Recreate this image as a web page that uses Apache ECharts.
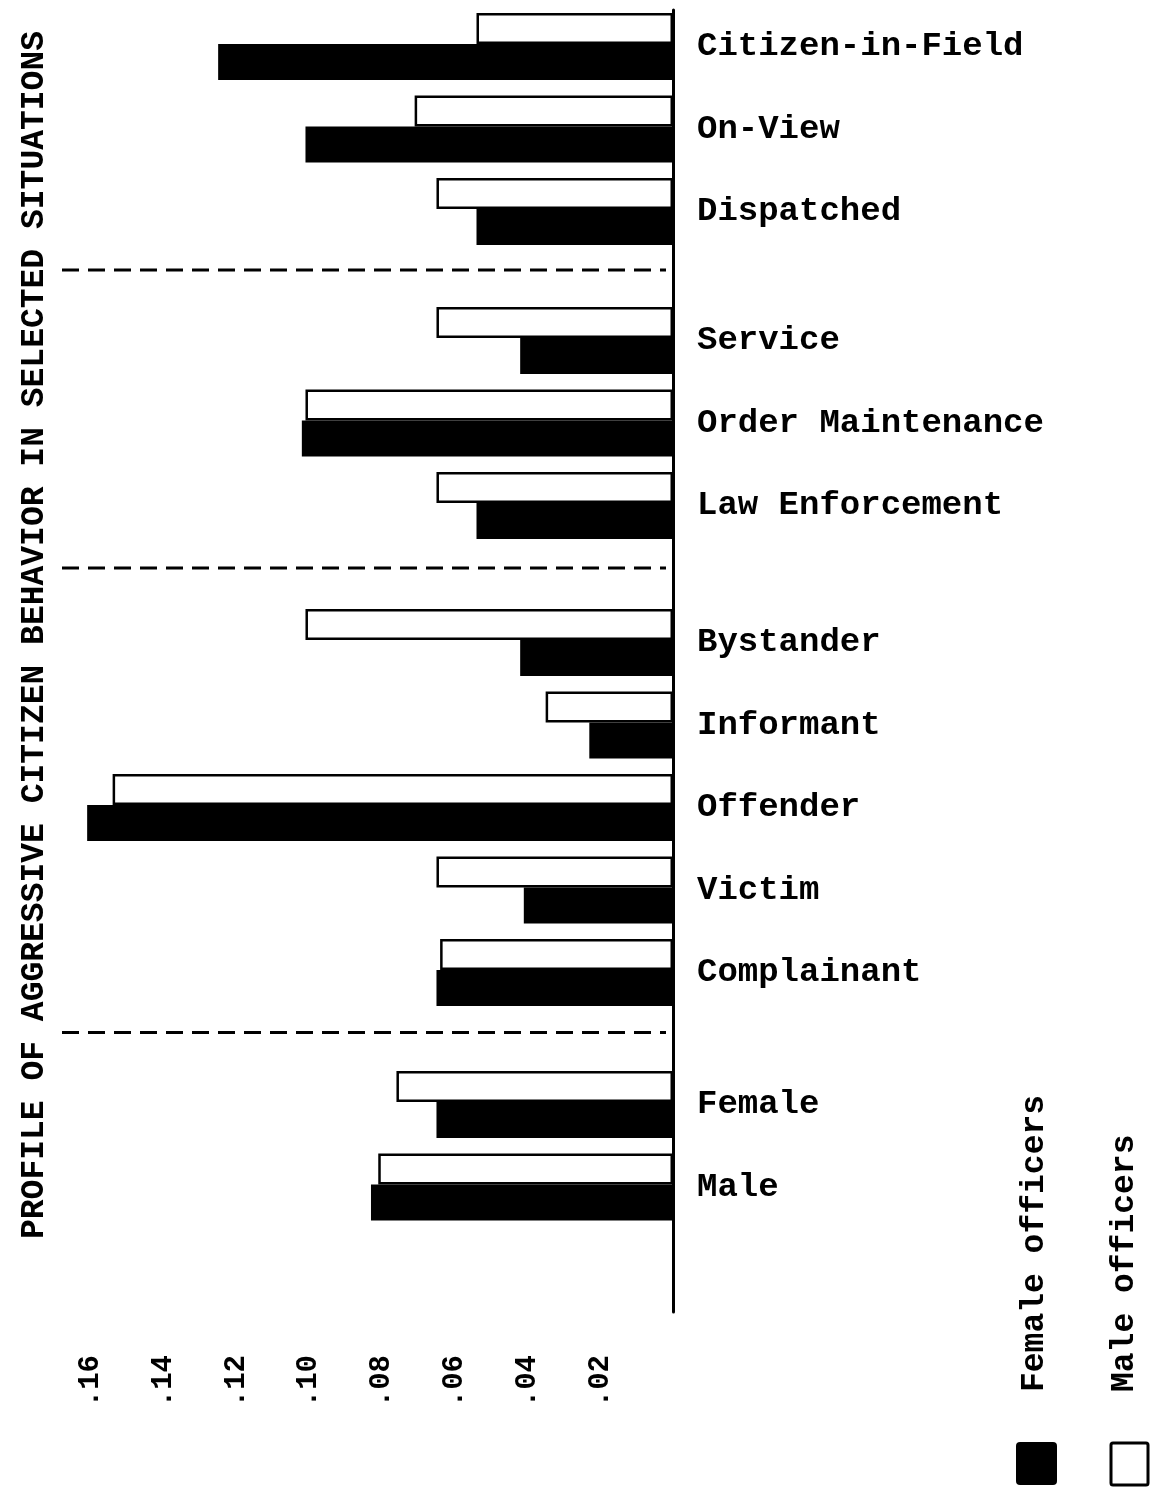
<!DOCTYPE html>
<html>
<head>
<meta charset="utf-8">
<script src="https://cdn.jsdelivr.net/npm/echarts/dist/echarts.min.js"></script>
<style>
  html, body { margin: 0; padding: 0; background: #fff; }
  #chart { width: 1159px; height: 1489px; }
</style>
</head>
<body>
<div id="chart"></div>
<script>
// ---- Data ----
const categories = ['Citizen-in-Field', 'On-View', 'Dispatched',
  'Service', 'Order Maintenance', 'Law Enforcement',
  'Bystander', 'Informant', 'Offender', 'Victim', 'Complainant',
  'Female', 'Male'];
const sectionSizes = [3, 3, 5, 2];
const maleOfficers   = [0.054, 0.071, 0.065, 0.065, 0.101, 0.065, 0.101, 0.035, 0.154, 0.065, 0.064, 0.076, 0.081];
const femaleOfficers = [0.125, 0.101, 0.054, 0.042, 0.102, 0.054, 0.042, 0.023, 0.161, 0.041, 0.065, 0.065, 0.083];
const seriesNames = ['Male officers', 'Female officers'];
const axisTitle = 'PROFILE OF AGGRESSIVE CITIZEN BEHAVIOR IN SELECTED SITUATIONS';

// ---- Layout ----
const FONT = 'Liberation Mono';
const PITCH = 82.5;
const gridTops = [5.25, 299.25, 601.25, 1063.25];
const LEFT = 54.4, RIGHT = 486;
const AX_TOP = 10, AX_BOTTOM_Y = 1312;

const chart = echarts.init(document.getElementById('chart'), null, { renderer: 'canvas' });

const grids = [{ left: LEFT, right: RIGHT, top: AX_TOP, height: AX_BOTTOM_Y - AX_TOP }];
const xAxes = [{
  gridIndex: 0, type: 'value', min: 0, max: 0.17, interval: 0.02, inverse: true,
  axisLine: { show: false }, axisTick: { show: false }, splitLine: { show: false },
  axisLabel: {
    rotate: 90, margin: 43, showMinLabel: false, showMaxLabel: false,
    fontFamily: FONT, fontWeight: 'bold', fontSize: 29, color: '#000',
    formatter: v => v.toFixed(2).replace(/^0/, '')
  }
}];
const yAxes = [{
  gridIndex: 0, type: 'value', min: 0, max: 1, position: 'right',
  axisLine: { show: true, lineStyle: { color: '#000', width: 3 } },
  axisTick: { show: false }, axisLabel: { show: false }, splitLine: { show: false }
}];
const series = [];
let start = 0;
sectionSizes.forEach((n, i) => {
  const gi = i + 1;
  grids.push({ left: LEFT, right: RIGHT, top: gridTops[i], height: n * PITCH });
  xAxes.push({ gridIndex: gi, type: 'value', min: 0, max: 0.17, inverse: true, show: false });
  yAxes.push({
    gridIndex: gi, type: 'category', inverse: true, position: 'right',
    data: categories.slice(start, start + n),
    axisLine: { show: false }, axisTick: { show: false }, splitLine: { show: false },
    axisLabel: { margin: 24, padding: [8, 0, 0, 0], fontFamily: FONT, fontWeight: 'bold', fontSize: 34, color: '#000' }
  });
  series.push({
    name: seriesNames[0], type: 'bar', xAxisIndex: gi, yAxisIndex: gi,
    data: maleOfficers.slice(start, start + n), barWidth: 31, barGap: '0%',
    itemStyle: { color: '#fff', borderColor: '#000', borderWidth: 2.5 }
  });
  series.push({
    name: seriesNames[1], type: 'bar', xAxisIndex: gi, yAxisIndex: gi,
    data: femaleOfficers.slice(start, start + n), barWidth: 36, barGap: '0%',
    itemStyle: { color: '#000' }
  });
  start += n;
});

// dashed separators between sections
const graphics = [];
for (let i = 0; i < sectionSizes.length - 1; i++) {
  const bottom = gridTops[i] + sectionSizes[i] * PITCH;
  const y = (bottom + gridTops[i + 1]) / 2 - 6;
  graphics.push({
    type: 'line', shape: { x1: 62, y1: y, x2: 666, y2: y },
    style: { stroke: '#000', lineWidth: 3, lineDash: [17, 9] }
  });
}
// axis title
graphics.push({
  type: 'text', x: 35, y: 635, rotation: Math.PI / 2,
  style: { text: axisTitle, font: 'bold 33px "' + FONT + '"', fill: '#000', textAlign: 'center', textVerticalAlign: 'middle' }
});
// legend
graphics.push({ type: 'rect', shape: { x: 1016, y: 1442, width: 41, height: 43, r: 4 }, style: { fill: '#000' } });
graphics.push({ type: 'rect', shape: { x: 1111, y: 1443, width: 37, height: 42, r: 2 }, style: { fill: '#fff', stroke: '#000', lineWidth: 3 } });
graphics.push({
  type: 'text', x: 1035, y: 1392, rotation: Math.PI / 2,
  style: { text: seriesNames[1], font: 'bold 33px "' + FONT + '"', fill: '#000', textAlign: 'left', textVerticalAlign: 'middle' }
});
graphics.push({
  type: 'text', x: 1125, y: 1392, rotation: Math.PI / 2,
  style: { text: seriesNames[0], font: 'bold 33px "' + FONT + '"', fill: '#000', textAlign: 'left', textVerticalAlign: 'middle' }
});

chart.setOption({
  backgroundColor: '#fff',
  animation: false,
  grid: grids,
  xAxis: xAxes,
  yAxis: yAxes,
  series: series,
  graphic: graphics
});
</script>
</body>
</html>
